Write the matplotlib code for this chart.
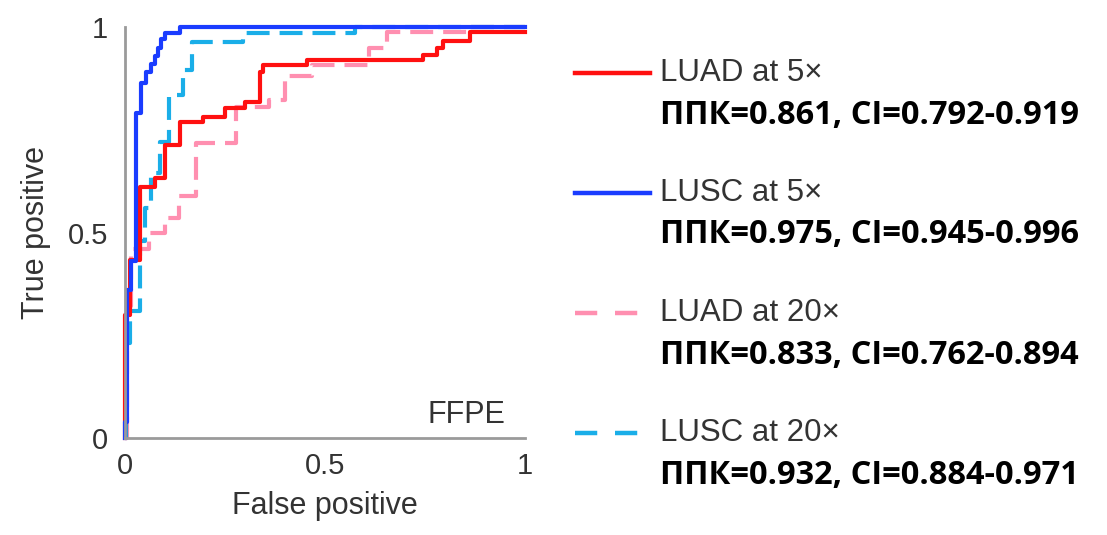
import matplotlib
matplotlib.use("Agg")
import matplotlib.pyplot as plt
from matplotlib.lines import Line2D

plt.rcParams.update({"font.family": "Liberation Sans", "font.size": 20})

# ROC curves (step curves: false positive, true positive)
luad5_fpr = [0, 0, 0.012, 0.012, 0.038, 0.038, 0.075, 0.075, 0.10, 0.10, 0.138, 0.138,
             0.195, 0.195, 0.25, 0.25, 0.30, 0.30, 0.338, 0.338, 0.345, 0.345, 0.455,
             0.455, 0.745, 0.745, 0.78, 0.78, 0.795, 0.795, 0.862, 0.862, 1.0]
luad5_tpr = [0, 0.30, 0.30, 0.433, 0.433, 0.61, 0.61, 0.632, 0.632, 0.713, 0.713, 0.77,
             0.77, 0.781, 0.781, 0.803, 0.803, 0.818, 0.818, 0.891, 0.891, 0.908, 0.908,
             0.92, 0.92, 0.932, 0.932, 0.949, 0.949, 0.966, 0.966, 0.988, 0.988]

lusc5_fpr = [0, 0, 0.005, 0.005, 0.015, 0.015, 0.028, 0.028, 0.04, 0.04, 0.053, 0.053,
             0.065, 0.065, 0.075, 0.075, 0.083, 0.083, 0.09, 0.09, 0.10, 0.10, 0.137,
             0.137, 1.0]
lusc5_tpr = [0, 0.04, 0.04, 0.36, 0.36, 0.43, 0.43, 0.79, 0.79, 0.865, 0.865, 0.89,
             0.89, 0.91, 0.91, 0.93, 0.93, 0.95, 0.95, 0.97, 0.97, 0.985, 0.985, 1.0, 1.0]

luad20_fpr = [0, 0.005, 0.005, 0.015, 0.015, 0.06, 0.06, 0.10, 0.10, 0.135, 0.135, 0.178,
              0.178, 0.278, 0.278, 0.36, 0.36, 0.40, 0.40, 0.468, 0.468, 0.61, 0.61,
              0.655, 0.655, 0.86, 0.86, 1.0]
luad20_tpr = [0, 0, 0.32, 0.32, 0.46, 0.46, 0.50, 0.50, 0.535, 0.535, 0.59, 0.59, 0.718,
              0.718, 0.806, 0.806, 0.822, 0.822, 0.88, 0.88, 0.908, 0.908, 0.95, 0.95,
              0.988, 0.988, 1.0, 1.0]

lusc20_fpr = [0, 0.003, 0.003, 0.012, 0.012, 0.037, 0.037, 0.05, 0.05, 0.065, 0.065, 0.087,
              0.087, 0.11, 0.11, 0.145, 0.145, 0.168, 0.168, 0.295, 0.295, 0.575, 0.575, 1.0]
lusc20_tpr = [0, 0, 0.23, 0.23, 0.31, 0.31, 0.48, 0.48, 0.56, 0.56, 0.645, 0.645, 0.72,
              0.72, 0.835, 0.835, 0.895, 0.895, 0.964, 0.964, 0.985, 0.985, 1.0, 1.0]

names = ["LUAD at 5\u00d7", "LUSC at 5\u00d7", "LUAD at 20\u00d7", "LUSC at 20\u00d7"]
auc_text = ["\u041f\u041f\u041a=0.861, CI=0.792-0.919",
            "\u041f\u041f\u041a=0.975, CI=0.945-0.996",
            "\u041f\u041f\u041a=0.833, CI=0.762-0.894",
            "\u041f\u041f\u041a=0.932, CI=0.884-0.971"]
colors = ["#ff1010", "#1a3cff", "#ff8fb0", "#1aaee8"]

fig = plt.figure(figsize=(11.07, 5.35), dpi=100)
ax = fig.add_axes([0.1129, 0.1813, 0.3614, 0.7682])

lw = 3
# dashed ones first so the solid lines sit on top
ax.plot(luad20_fpr, luad20_tpr, color=colors[2], lw=lw, dashes=(5.5, 2.4), clip_on=False)
ax.plot(lusc20_fpr, lusc20_tpr, color=colors[3], lw=lw, dashes=(5.5, 2.4), clip_on=False)
ax.plot(luad5_fpr, luad5_tpr, color=colors[0], lw=lw, clip_on=False)
ax.plot(lusc5_fpr, lusc5_tpr, color=colors[1], lw=lw, clip_on=False)

ax.set_xlim(0, 1)
ax.set_ylim(0, 1)
ax.set_xticks([0, 0.5, 1])
ax.set_xticklabels(["0", "0.5", "1"])
ax.set_yticks([0, 0.5, 1])
ax.set_yticklabels(["0", "0.5", "1"])
ax.tick_params(length=0, colors="#333333", labelsize=21)
ax.tick_params(axis="x", pad=10)
ax.tick_params(axis="y", pad=12)
for s in ["top", "right"]:
    ax.spines[s].set_visible(False)
for s in ["left", "bottom"]:
    ax.spines[s].set_color("#9a9a9a")
    ax.spines[s].set_linewidth(2)
ax.set_xlabel("False positive", fontsize=22, color="#333333", labelpad=8)
ax.set_ylabel("True positive", fontsize=22, color="#333333", labelpad=12)
ax.text(0.95, 0.036, "FFPE", transform=ax.transAxes, ha="right", va="baseline",
        fontsize=22, color="#333333")

# legend drawn by hand: grey name line + bold AUC line
W, H = 1107, 535
dashed = [False, False, True, True]
for i in range(4):
    yc = 73 + 120 * i
    x_end = 638 if dashed[i] else 650
    ln = Line2D([575 / W, x_end / W], [1 - yc / H, 1 - yc / H], transform=fig.transFigure,
                color=colors[i], lw=3.2)
    if dashed[i]:
        ln.set_dashes((5.0, 4.0))
    fig.add_artist(ln)
    fig.text(660 / W, 1 - yc / H, names[i], fontsize=22.5, color="#333333", va="center")
    fig.text(660 / W, 1 - (yc + 42) / H, auc_text[i], fontsize=23.5, color="black",
             fontweight="bold", family="Open Sans", va="center")

fig.savefig("out.png", dpi=100)
